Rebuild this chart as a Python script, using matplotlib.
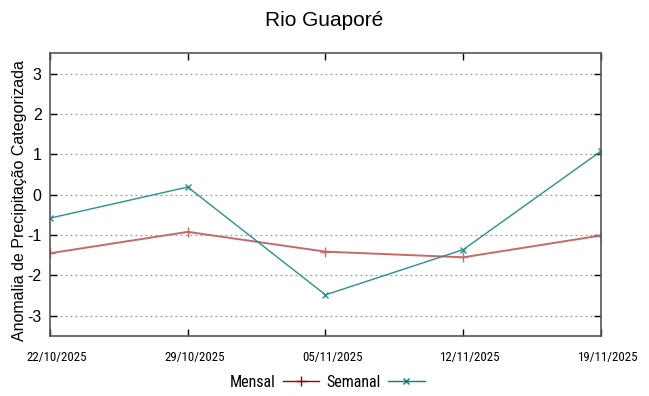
import matplotlib
matplotlib.use("Agg")
import matplotlib.pyplot as plt
from matplotlib.lines import Line2D
from matplotlib.transforms import ScaledTranslation

dates = ["22/10/2025", "29/10/2025", "05/11/2025", "12/11/2025", "19/11/2025"]
mensal = [-1.45, -0.92, -1.41, -1.55, -1.01]
semanal = [-0.58, 0.19, -2.48, -1.36, 1.08]
yticks = [-3, -2, -1, 0, 1, 2, 3]

plt.rcParams['font.family'] = ['Liberation Sans', 'DejaVu Sans']
narrow = ['Roboto Condensed', 'Liberation Sans', 'DejaVu Sans']

fig = plt.figure(figsize=(6.49, 3.96), dpi=100)
ax = fig.add_axes([0.077, 0.1515, 0.849, 0.7135])

x = list(range(len(dates)))
c_m = '#c46a6a'
c_s = '#2e8f8f'
ax.plot(x, mensal, color=c_m, lw=1.4, marker='+', ms=7, mew=1.0)
ax.plot(x, semanal, color=c_s, lw=1.0, marker='x', ms=5, mew=1.0)

ax.set_xlim(0, len(dates) - 1)
ax.set_ylim(-3.5, 3.5)
ax.set_xticks(x)
ax.set_xticklabels([])
offset = ScaledTranslation(7 / 100, -21 / 100, fig.dpi_scale_trans)
trans = ax.get_xaxis_transform() + offset
for xi, d in zip(x, dates):
    ax.text(xi, 0, d, transform=trans, ha='center', va='center',
            fontsize=9.3, family=narrow, clip_on=False)
ax.set_yticks(yticks)
ax.set_yticklabels([str(v) for v in yticks], fontsize=11.5)
ax.tick_params(direction='in', length=5, top=True, right=True, width=1, color='black')
ax.tick_params(axis='y', pad=6)
ax.grid(axis='y', color='#999999', linestyle=(0, (1.5, 2.5)), lw=0.9)
for s in ax.spines.values():
    s.set_color('#555555')
    s.set_linewidth(1.2)

ax.set_ylabel('Anomalia de Precipitação Categorizada', fontsize=11.5, va='center')
ax.yaxis.set_label_coords(-0.056, 0.481)
fig.suptitle('Rio Guaporé', fontsize=15, y=0.972)

handles = [Line2D([], [], color='#a00000', lw=1.0, marker='+', ms=7),
           Line2D([], [], color='#00807f', lw=1.0, marker='x', ms=4.5)]
fig.legend(handles, ['Mensal', 'Semanal'], loc='center', bbox_to_anchor=(0.504, 0.034),
           ncol=2, frameon=False, markerfirst=False, handlelength=2.3,
           columnspacing=0.45, handletextpad=0.45,
           prop={'family': narrow, 'size': 11.5})

fig.savefig('out.png', dpi=100)
